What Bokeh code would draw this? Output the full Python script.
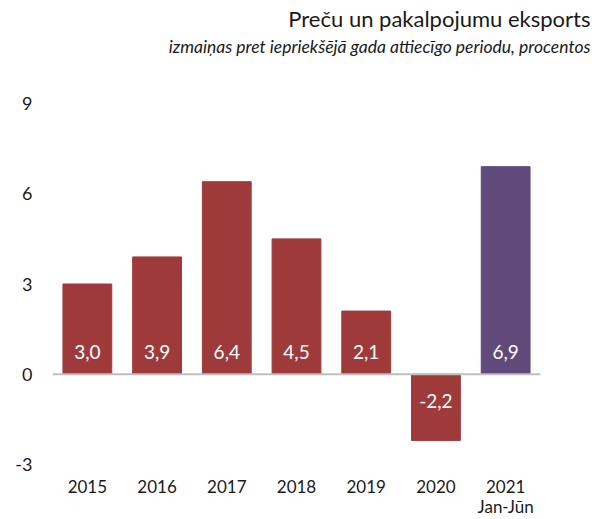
from bokeh.plotting import figure
from bokeh.embed import file_html
from bokeh.resources import INLINE
from bokeh.models import (ColumnDataSource, FixedTicker, Span, Range1d, CategoricalAxis,
                          FactorRange, Title)
from bokeh.core.properties import value

categories = ["2015", "2016", "2017", "2018", "2019", "2020", "2021"]
sublabels = [" ", "  ", "   ", "    ", "     ", "      ", "Jan-Jūn"]
values = [3.0, 3.9, 6.4, 4.5, 2.1, -2.2, 6.9]
bar_colors = ["#9e3b3a"] * 6 + ["#5f4a7b"]
y_ticks = [-3, 0, 3, 6, 9]
title_text = "Preču un pakalpojumu eksports"
subtitle_text = "izmaiņas pret iepriekšējā gada attiecīgo periodu, procentos"

FONT = "Lato"
TXT = "#1a1a1a"
W, H = 600, 519
BL, BT = 52, 103
BR = W - 540
BB = H - 466

labels = [f"{v:.1f}".replace(".", ",") for v in values]
label_offsets = [-22 if v >= 0 else 27 for v in values]
src = ColumnDataSource(dict(cat=categories, val=values, color=bar_colors,
                            lab=labels, zero=[0] * len(values), off=label_offsets))

p = figure(x_range=categories, y_range=Range1d(y_ticks[0], y_ticks[-1]), width=W, height=H,
           output_backend="svg", toolbar_location=None,
           min_border_left=BL, min_border_right=BR, min_border_top=BT, min_border_bottom=BB)
p.outline_line_color = None
p.xgrid.grid_line_color = None
p.ygrid.grid_line_color = None
p.extra_x_ranges = {"sub": FactorRange(factors=sublabels)}

p.vbar(x="cat", top="val", width=0.7, color="color", source=src)

p.add_layout(Span(location=0, dimension="width", line_color="#bfbfbf", line_width=2))

p.text(x="cat", y="zero", text="lab", y_offset="off", source=src,
       text_color="white", text_font=value(FONT), text_font_size="19px",
       text_align="center", text_baseline="middle")

ax1 = p.xaxis[0]
ax1.axis_line_color = None
ax1.major_tick_line_color = None
ax1.minor_tick_line_color = None
ax1.major_tick_out = 0
ax1.major_tick_in = 0
ax1.major_label_standoff = 15
ax1.major_label_text_font = FONT
ax1.major_label_text_font_size = "17px"
ax1.major_label_text_line_height = 1.0
ax1.major_label_text_color = TXT

ax2 = CategoricalAxis(x_range_name="sub", axis_line_color=None, major_tick_line_color=None,
                      minor_tick_line_color=None, major_tick_out=0, major_tick_in=0,
                      major_label_standoff=0, major_label_text_font=FONT,
                      major_label_text_font_size="17px", major_label_text_line_height=1.0,
                      major_label_text_color=TXT)
p.add_layout(ax2, "below")

p.yaxis.ticker = FixedTicker(ticks=y_ticks)
p.yaxis.major_label_overrides = {t: str(t) for t in y_ticks}
p.yaxis.axis_line_color = None
p.yaxis.major_tick_line_color = None
p.yaxis.minor_tick_line_color = None
p.yaxis.major_tick_out = 0
p.yaxis.major_tick_in = 0
p.yaxis.major_label_standoff = 20
p.yaxis.major_label_text_align = "right"
p.yaxis.major_label_text_font = FONT
p.yaxis.major_label_text_font_size = "18px"
p.yaxis.major_label_text_color = TXT

p.title.visible = False
# spacer between the frame and the subtitle
p.add_layout(Title(text=" ", text_font=FONT, text_font_size="15px", standoff=25), "above")
p.add_layout(Title(text=subtitle_text, align="right", text_font=FONT, text_font_size="17.5px",
                   text_font_style="italic", text_color=TXT, standoff=4, offset=-50),
             "above")
p.add_layout(Title(text=title_text, align="right", text_font=FONT, text_font_size="22px",
                   text_font_style="normal", text_color=TXT, standoff=0, offset=-50),
             "above")

open("out.html", "w").write(file_html(p, INLINE))
